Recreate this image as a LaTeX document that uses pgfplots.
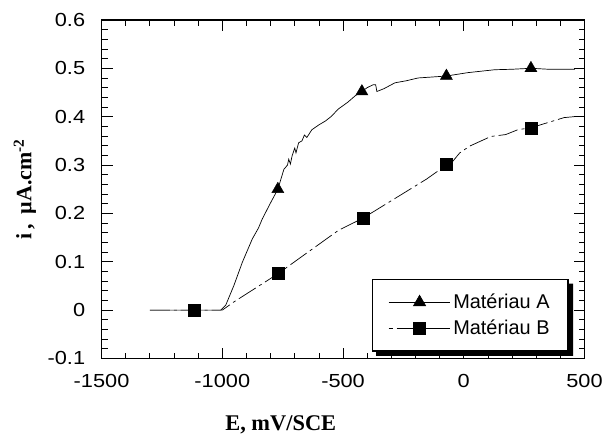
\documentclass[border=0pt]{standalone}
\usepackage{fontspec}
\setmainfont{Liberation Sans}
\newfontfamily\labfont{Liberation Serif}
\usepackage{graphicx}
\usepackage{pgfplots}
\pgfplotsset{compat=1.18}

\pgfplotstableread{
x y
-1300 0
-1006 0
-986 0.010
-952 0.051
-917 0.099
-876 0.147
-850 0.170
-835 0.188
-800 0.222
-770 0.250
-745 0.291
-730 0.300
-725 0.312
-718 0.302
-711 0.319
-700 0.335
-695 0.325
-684 0.346
-670 0.350
-660 0.362
-650 0.357
-629 0.373
-600 0.383
-573 0.391
-550 0.400
-519 0.416
-480 0.430
-450 0.443
-422 0.452
-400 0.460
-375 0.466
-365 0.466
-360 0.452
-330 0.458
-285 0.470
-240 0.474
-189 0.480
-130 0.482
-72 0.484
17 0.491
128 0.497
200 0.498
278 0.500
350 0.498
460 0.498
}\dataA

\pgfplotstableread{
x y
-1300 0
-1000 0
-952 0.017
-770 0.075
-684 0.106
-519 0.165
-418 0.190
-154 0.271
-72 0.300
-50 0.305
-17 0.325
24 0.339
112 0.359
174 0.363
224 0.373
278 0.377
415 0.398
457 0.400
}\dataB

\begin{document}
\begin{tikzpicture}
\begin{axis}[
  scale only axis,
  width=485pt, height=340pt,
  xmin=-1500, xmax=500, ymin=-0.1, ymax=0.6,
  xtick={-1500,-1000,...,500},
  ytick={-0.1,0,0.1,0.2,0.3,0.4,0.5,0.6},
  minor x tick num=4, minor y tick num=4,
  tick align=inside,
  major tick length=11pt, minor tick length=6pt,
  axis line style={line width=1.2pt},
  every tick/.style={black, line width=0.8pt},
  xticklabel={\scalebox{1.15}[1]{\fontsize{19}{19}\selectfont\pgfmathprintnumber[assume math mode=true,set thousands separator={}]{\tick}}},
  yticklabel={\scalebox{1.15}[1]{\fontsize{19}{19}\selectfont\pgfmathprintnumber[assume math mode=true,fixed,precision=1]{\tick}}},
  yticklabel style={xshift=-13pt},
  xticklabel style={yshift=-12pt},
  xlabel={\labfont\bfseries E, mV/SCE},
  xlabel style={at={(axis description cs:0.371,0)}, anchor=base, yshift=-72pt, font=\fontsize{22.5}{22.5}\selectfont},
  ylabel={\labfont\bfseries i\hspace{4pt},\hspace{10pt}µA.cm\textsuperscript{-2}},
  ylabel style={at={(axis description cs:-0.159,0.5)}, anchor=center, font=\fontsize{22}{22}\selectfont},
  legend style={at={(axis description cs:1,0)}, anchor=south east, xshift=-16pt, yshift=7pt,
    draw=black, line width=1.2pt, fill=white,
    append after command={\pgfextra{\let\legnode=\tikzlastnode
      \fill[black] ([shift={(0.6pt,0.6pt)}]\legnode.south east) -- ([shift={(0.6pt,-4.5pt)}]\legnode.south east)
        -- ([shift={(4.5pt,-4.5pt)}]\legnode.south east) -- ([shift={(4.5pt,-4.5pt)}]\legnode.north east)
        -- ([shift={(0.6pt,-4.5pt)}]\legnode.north east) -- cycle;
      \fill[black] ([shift={(4.5pt,0.6pt)}]\legnode.south west) -- ([shift={(4.5pt,-4.5pt)}]\legnode.south west)
        -- ([shift={(0.6pt,-4.5pt)}]\legnode.south east) -- ([shift={(0.6pt,0.6pt)}]\legnode.south east) -- cycle;
    }},
    font=\fontsize{20}{20}\selectfont,
    nodes={inner sep=2.5pt}, row sep=5pt, inner xsep=16pt, inner ysep=12pt},
  legend cell align=left,
  legend image code/.code={\draw[mark repeat=2,mark phase=2,#1] plot coordinates {(0pt,0pt) (31pt,0pt) (62pt,0pt)};},
]
\addplot[black, line width=0.7pt, forget plot] table {\dataA};
\addplot[black, line width=0.7pt, dash pattern=on 20pt off 4pt on 3pt off 4pt, forget plot] table {\dataB};
\addplot[only marks, mark=triangle*, mark size=7pt, black, forget plot] coordinates {(-770,0.25) (-422,0.452) (-72,0.484) (278,0.5)};
\addplot[only marks, mark=square*, mark size=6pt, black, forget plot] coordinates {(-1115,0) (-770,0.077) (-418,0.19) (-72,0.301) (278,0.377)};
\addlegendimage{black, line width=0.7pt, mark=triangle*, mark size=7pt}
\addlegendentry{Matériau A}
\addlegendimage{black, line width=0.7pt, dash pattern=on 4pt off 4pt on 60pt off 0pt, mark=square*, mark size=6pt, mark options={solid}}
\addlegendentry{Matériau B}
\end{axis}
\path ([shift={(-102pt,-75pt)}]current axis.south west) rectangle ([shift={(19pt,20pt)}]current axis.north east);
\end{tikzpicture}
\end{document}
